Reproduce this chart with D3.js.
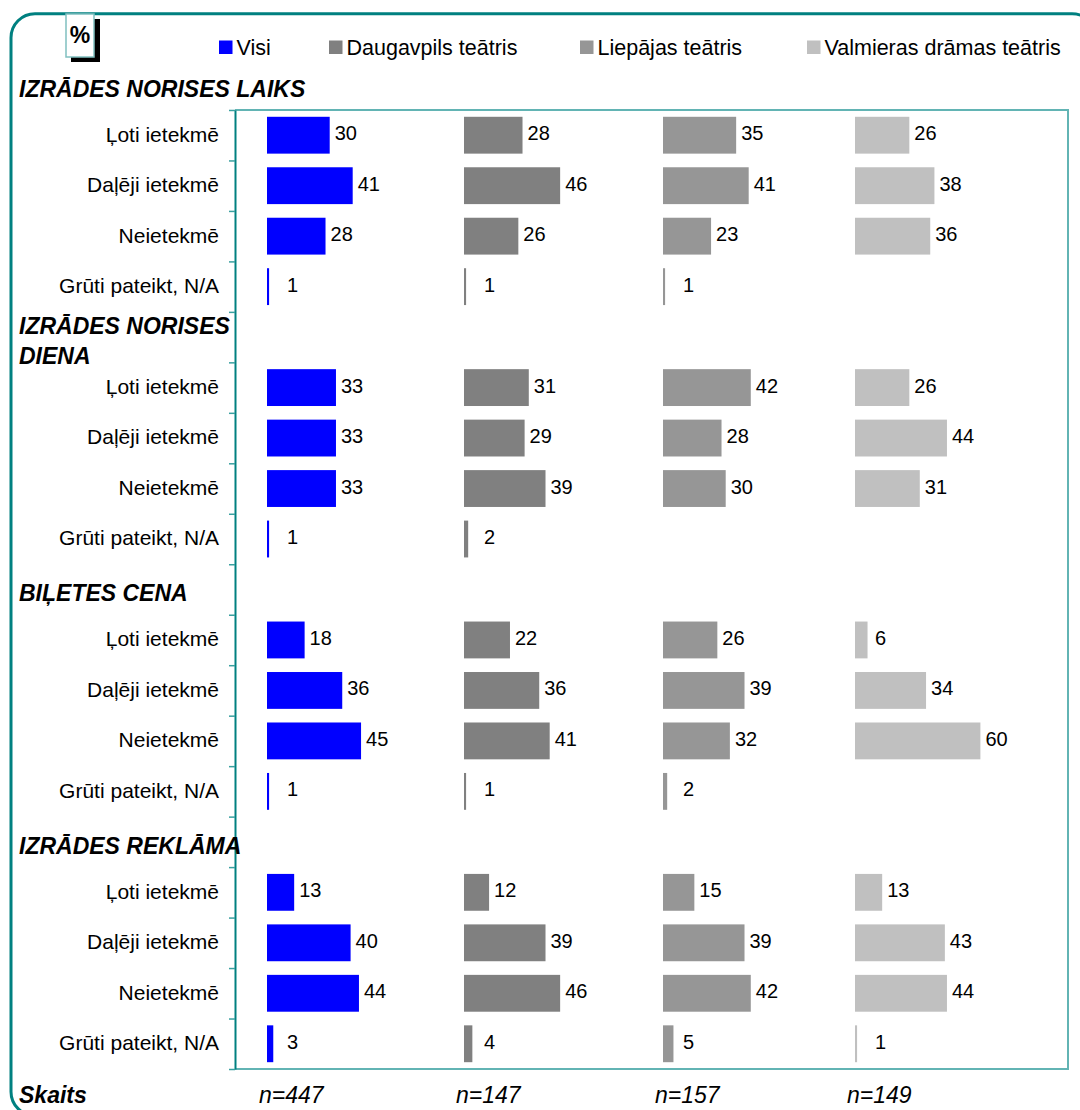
<!DOCTYPE html>
<html>
<head>
<meta charset="utf-8">
<script src="https://cdn.jsdelivr.net/npm/d3@7"></script>
<style>
  html, body { margin: 0; padding: 0; background: #fff; }
  svg { display: block; }
  text { font-family: "Liberation Sans", Arial, sans-serif; fill: #000; }
</style>
</head>
<body>
<svg id="chart" width="1080" height="1110"></svg>
<script>
// ---------- DATA ----------
const groups = ["IZRĀDES NORISES LAIKS", "IZRĀDES NORISES\nDIENA", "BIĻETES CENA", "IZRĀDES REKLĀMA"];
const categories = ["Ļoti ietekmē", "Daļēji ietekmē", "Neietekmē", "Grūti pateikt, N/A"];
const seriesNames = ["Visi", "Daugavpils teātris", "Liepājas teātris", "Valmieras drāmas teātris"];
// values in group order (4 categories per group)
const visi       = [30, 41, 28, 1,   33, 33, 33, 1,     18, 36, 45, 1,     13, 40, 44, 3];
const daugavpils = [28, 46, 26, 1,   31, 29, 39, 2,     22, 36, 41, 1,     12, 39, 46, 4];
const liepajas   = [35, 41, 23, 1,   42, 28, 30, null,  26, 39, 32, 2,     15, 39, 42, 5];
const valmieras  = [26, 38, 36, null, 26, 44, 31, null, 6, 34, 60, null,   13, 43, 44, 1];
const sampleSizes = ["n=447", "n=147", "n=157", "n=149"];
const totalLabel = "Skaits";
const unitLabel = "%";

// ---------- LAYOUT ----------
const colors = ["#0000FF", "#808080", "#969696", "#C0C0C0"];
const svg = d3.select("#chart");
const seriesValues = [visi, daugavpils, liepajas, valmieras];

// rows: each group = header row + 4 category rows
const rowKeys = [];
groups.forEach((g, gi) => {
  rowKeys.push("h" + gi);
  categories.forEach((c, ci) => rowKeys.push(gi + "-" + ci));
});
const yTop = 59.5, yBottom = 1069;
const y = d3.scaleBand().domain(rowKeys).range([yTop, yBottom])
  .paddingInner(0.27).paddingOuter(0.135);
const step = y.step();
const rowCenter = k => y(k) + y.bandwidth() / 2;

// column origins and bar-length scale
const colX = d3.scaleOrdinal().domain(seriesNames).range([267, 464, 663, 855]);
const len = d3.scaleLinear().domain([0, 100]).range([0, 209]);

// ---------- OUTER FRAME ----------
svg.append("rect")
  .attr("x", 11).attr("y", 13.7).attr("width", 1085).attr("height", 1102)
  .attr("rx", 24).attr("ry", 24)
  .attr("fill", "none").attr("stroke", "#008080").attr("stroke-width", 3);

// % box with shadow
svg.append("rect").attr("x", 71).attr("y", 19).attr("width", 29).attr("height", 43).attr("fill", "#000");
svg.append("rect").attr("x", 66).attr("y", 14).attr("width", 28).attr("height", 43)
  .attr("fill", "#fff").attr("stroke", "#80c0c0").attr("stroke-width", 1.5);
svg.append("text").attr("x", 80).attr("y", 43).attr("text-anchor", "middle")
  .style("font-size", "23px").style("font-weight", "bold").text(unitLabel);

// ---------- LEGEND ----------
const legendX = [219, 329, 580, 807];
const lg = svg.append("g");
seriesNames.forEach((s, i) => {
  lg.append("rect").attr("x", legendX[i]).attr("y", 40.5).attr("width", 13.5).attr("height", 13.5)
    .attr("fill", colors[i]);
  lg.append("text").attr("x", legendX[i] + 17.5).attr("y", 55)
    .style("font-size", "21.5px").text(s);
});

// ---------- PLOT FRAME ----------
const plotTop = yTop + step, plotLeft = 235, plotRight = 1068;
svg.append("path")
  .attr("d", `M${plotLeft},${plotTop}H${plotRight}V${yBottom}H${plotLeft}`)
  .attr("fill", "none").attr("stroke", "#62b4b4").attr("stroke-width", 2);

const axisScale = d3.scaleLinear().domain([1, rowKeys.length]).range([plotTop, yBottom]);
const axisG = svg.append("g").attr("transform", `translate(${plotLeft},0)`)
  .call(d3.axisLeft(axisScale).tickValues(d3.range(1, rowKeys.length + 1)).tickSize(6).tickSizeOuter(0).tickFormat(""));
axisG.select(".domain").attr("stroke", "#008080").attr("stroke-width", 2);
axisG.selectAll(".tick line").attr("stroke", "#3aa0a0").attr("stroke-width", 1.5);

// ---------- HEADERS ----------
groups.forEach((g, gi) => {
  const lines = g.split("\n");
  const c = rowCenter("h" + gi) + 12;
  const t = svg.append("text").attr("x", 19)
    .style("font-size", "23px").style("font-weight", "bold").style("font-style", "italic");
  lines.forEach((ln, li) => {
    t.append("tspan").attr("x", 19).attr("y", c + (li - (lines.length - 1) / 2) * 30).text(ln);
  });
});

// ---------- CATEGORY LABELS ----------
groups.forEach((g, gi) => {
  categories.forEach((c, ci) => {
    svg.append("text").attr("x", 219).attr("y", rowCenter(gi + "-" + ci) - 1)
      .attr("dy", "0.35em").attr("text-anchor", "end")
      .style("font-size", "21px").text(c);
  });
});

// ---------- BARS + LABELS ----------
seriesNames.forEach((s, si) => {
  const data = seriesValues[si].map((v, idx) => ({
    v, key: Math.floor(idx / 4) + "-" + (idx % 4)
  })).filter(d => d.v !== null);
  const g = svg.append("g");
  g.selectAll("rect").data(data).join("rect")
    .attr("x", colX(s))
    .attr("y", d => y(d.key))
    .attr("width", d => len(d.v))
    .attr("height", y.bandwidth())
    .attr("fill", colors[si]);
  g.selectAll("text").data(data).join("text")
    .attr("x", d => Math.max(colX(s) + len(d.v) + 5, colX(s) + 20))
    .attr("y", d => rowCenter(d.key) - 2)
    .attr("dy", "0.35em")
    .style("font-size", "20px")
    .text(d => d.v);
});

// ---------- SAMPLE SIZES ----------
svg.append("text").attr("x", 19).attr("y", 1103)
  .style("font-size", "23px").style("font-weight", "bold").style("font-style", "italic").text(totalLabel);
seriesNames.forEach((s, i) => {
  svg.append("text").attr("x", colX(s) - 8).attr("y", 1103)
    .style("font-size", "23px").style("font-style", "italic").text(sampleSizes[i]);
});
</script>
</body>
</html>
